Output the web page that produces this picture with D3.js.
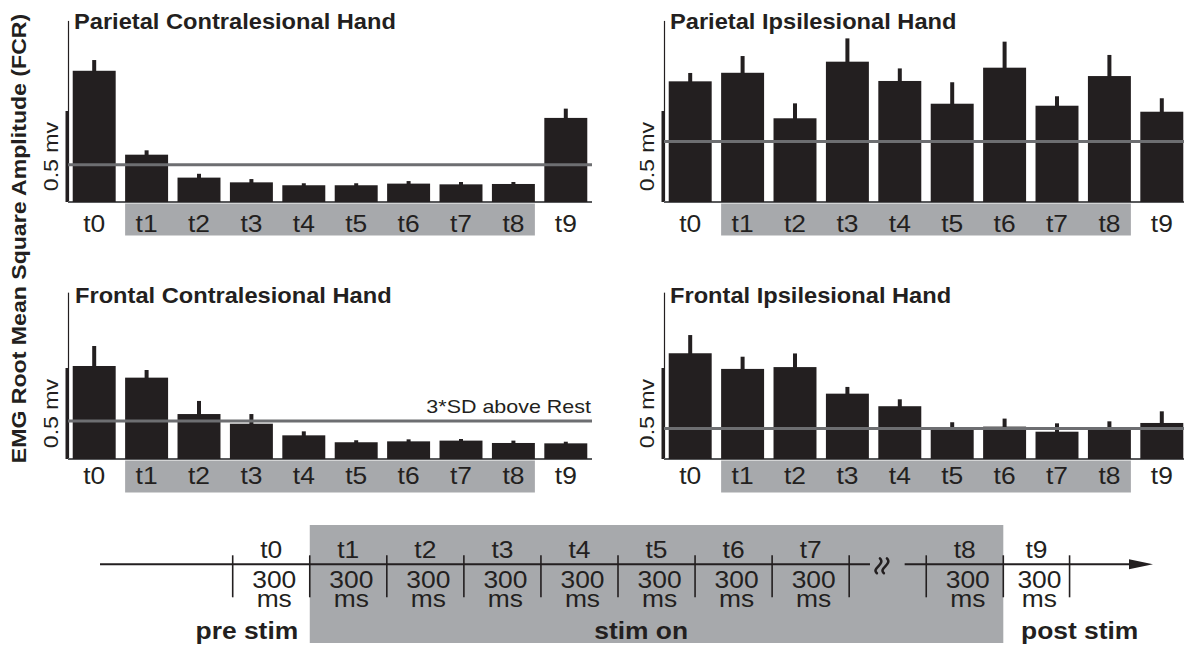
<!DOCTYPE html>
<html><head><meta charset="utf-8">
<script src="https://cdn.jsdelivr.net/npm/d3@7"></script>
<style>
body{margin:0;background:#fff}
svg{display:block}
text{font-family:"Liberation Sans",Arial,Helvetica,sans-serif;fill:#231f20}
</style>
</head><body>
<svg id="chart" width="1184" height="648"></svg>
<script>
// ---------- DATA ----------
const categories = ["t0","t1","t2","t3","t4","t5","t6","t7","t8","t9"];
const stimCategories = ["t1","t2","t3","t4","t5","t6","t7","t8"];

const parietalContraMean = [0.721,0.260,0.134,0.108,0.092,0.092,0.101,0.097,0.099,0.462];
const parietalContraErr  = [0.059,0.024,0.021,0.018,0.011,0.011,0.014,0.013,0.011,0.051];
const parietalIpsiMean   = [0.663,0.710,0.460,0.771,0.665,0.540,0.738,0.529,0.692,0.496];
const parietalIpsiErr    = [0.046,0.092,0.082,0.128,0.069,0.118,0.143,0.052,0.116,0.074];
const frontalContraMean  = [0.511,0.447,0.247,0.194,0.130,0.092,0.097,0.101,0.088,0.086];
const frontalContraErr   = [0.110,0.042,0.072,0.053,0.022,0.011,0.011,0.009,0.013,0.009];
const frontalIpsiMean    = [0.581,0.495,0.505,0.359,0.290,0.163,0.178,0.150,0.163,0.198];
const frontalIpsiErr     = [0.100,0.067,0.075,0.037,0.038,0.039,0.044,0.046,0.044,0.064];
const thresholds = [0.205,0.333,0.209,0.167]; // 3*SD above rest (mV)

const panelTitles = ["Parietal Contralesional Hand","Parietal Ipsilesional Hand",
                     "Frontal Contralesional Hand","Frontal Ipsilesional Hand"];
const yAxisLabel = "EMG Root Mean Square Amplitude (FCR)";
const scaleBarValue = 0.5;
const scaleBarLabel = "0.5 mv";
const thresholdLabel = "3*SD above Rest";

// timeline schematic
const timelineLabels = categories;
const timelineSegStart = [0,1,2,3,4,5,6,7,9,10];      // slot units
const timelineSegEnd   = [1,2,3,4,5,6,7,8,10,10.86];
const durationLabel = ["300","ms"];
const phaseLabels = ["pre stim","stim on","post stim"];

// ---------- LAYOUT ----------
const svg = d3.select("#chart");
const INK = "#231f20", BAND = "#a7a9ac", LINE = "#6d6e71";
const K = 1.1; // horizontal glyph stretch of the original lettering

function txt(g, s, x, y, size, opts = {}) {
  return g.append("text")
    .attr("transform", `translate(${x},${y})` + (opts.rotate ? ` rotate(${opts.rotate})` : "") + ` scale(${opts.k || K},1)`)
    .attr("font-size", size)
    .attr("text-anchor", opts.anchor || "middle")
    .attr("font-weight", opts.bold ? "bold" : "normal")
    .text(s);
}

const panels = [
  {title: panelTitles[0], mean: parietalContraMean, err: parietalContraErr, thr: thresholds[0],
   x0: 68, base: 202, axisMax: 0.995, titleX: 74, titleY: 28.5, labelDy: 29.7, thrLabel: false},
  {title: panelTitles[1], mean: parietalIpsiMean, err: parietalIpsiErr, thr: thresholds[1],
   x0: 664, base: 202, axisMax: 0.995, titleX: 670, titleY: 28.5, labelDy: 29.7, thrLabel: false},
  {title: panelTitles[2], mean: frontalContraMean, err: frontalContraErr, thr: thresholds[2],
   x0: 68, base: 459, axisMax: 0.914, titleX: 75, titleY: 302.5, labelDy: 25, thrLabel: true},
  {title: panelTitles[3], mean: frontalIpsiMean, err: frontalIpsiErr, thr: thresholds[3],
   x0: 664, base: 459, axisMax: 0.914, titleX: 670, titleY: 303, labelDy: 25, thrLabel: false}
];

panels.forEach(p => {
  const g = svg.append("g");
  const x = d3.scaleBand().domain(categories).range([p.x0, p.x0 + 524])
              .paddingInner(0.18).paddingOuter(0.09);
  const y = d3.scaleLinear().domain([0, 1]).range([p.base, p.base - 182]);
  const bw = x.bandwidth();

  // gray band behind stimulation-period labels
  const bx0 = x(stimCategories[0]), bx1 = x(stimCategories[stimCategories.length - 1]) + bw;
  g.append("rect").attr("x", bx0).attr("y", p.base + 1.5).attr("width", bx1 - bx0).attr("height", 32).attr("fill", BAND);

  // thin y axis line
  g.append("line").attr("x1", p.x0 + 0.5).attr("x2", p.x0 + 0.5)
    .attr("y1", y(p.axisMax)).attr("y2", y(0)).attr("stroke", INK).attr("stroke-width", 1.2);
  // scale bar
  g.append("line").attr("x1", p.x0 - 1).attr("x2", p.x0 - 1)
    .attr("y1", y(scaleBarValue)).attr("y2", y(0)).attr("stroke", INK).attr("stroke-width", 3);
  txt(g, scaleBarLabel, p.x0 - 10, y(scaleBarValue / 2), 21, {rotate: -90});

  // baseline
  g.append("line").attr("x1", p.x0).attr("x2", Math.min(p.x0 + 524, 1184))
    .attr("y1", p.base).attr("y2", p.base).attr("stroke", "#58595b").attr("stroke-width", 2);

  // bars
  g.selectAll("rect.bar").data(categories).join("rect").attr("class", "bar")
    .attr("x", d => x(d)).attr("width", bw)
    .attr("y", (d, i) => y(p.mean[i])).attr("height", (d, i) => y(0) - y(p.mean[i]))
    .attr("fill", INK);
  // error bars (upper only)
  g.selectAll("line.err").data(categories).join("line").attr("class", "err")
    .attr("x1", d => x(d) + bw / 2).attr("x2", d => x(d) + bw / 2)
    .attr("y1", (d, i) => y(p.mean[i]) + 1).attr("y2", (d, i) => y(p.mean[i] + p.err[i]))
    .attr("stroke", INK).attr("stroke-width", 4);

  // threshold line
  g.append("line").attr("x1", p.x0).attr("x2", Math.min(p.x0 + 524, 1184))
    .attr("y1", y(p.thr)).attr("y2", y(p.thr)).attr("stroke", LINE).attr("stroke-width", 3);
  if (p.thrLabel) txt(g, thresholdLabel, p.x0 + 523, y(p.thr) - 8, 19, {anchor: "end", k: 1.13});

  // category labels via axis
  const ax = g.append("g").attr("transform", `translate(0,${p.base})`)
    .call(d3.axisBottom(x).tickSize(0).tickSizeOuter(0));
  ax.select(".domain").remove();
  ax.selectAll("text").attr("y", p.labelDy).attr("dy", 0)
    .attr("font-size", 24).attr("fill", INK)
    .attr("font-family", '"Liberation Sans",Arial,sans-serif')
    .attr("transform", `scale(${K},1)`);

  // title
  txt(g, p.title, p.titleX, p.titleY, 21.5, {anchor: "start", bold: true});
});

// y-axis title
txt(svg, yAxisLabel, 26, 238.5, 21, {rotate: -90, bold: true});

// ---------- TIMELINE ----------
const tg = svg.append("g");
const tx = d3.scaleLinear().domain([0, 10]).range([232.7, 1003.3]);
const ty = 564.3;
tg.append("rect").attr("x", tx(1)).attr("y", 525).attr("width", tx(10) - tx(1)).attr("height", 118).attr("fill", BAND);
// main line with a break
tg.append("line").attr("x1", 100).attr("x2", tx(8.27)).attr("y1", ty).attr("y2", ty).attr("stroke", INK).attr("stroke-width", 2);
tg.append("line").attr("x1", tx(8.72)).attr("x2", 1132).attr("y1", ty).attr("y2", ty).attr("stroke", INK).attr("stroke-width", 2);
tg.append("path").attr("d", `M1129,${ty - 5} L1153,${ty} L1129,${ty + 5} Z`).attr("fill", INK);
// break symbol
[0, 7].forEach(dx => {
  const bx = tx(8.36) + dx;
  tg.append("path").attr("d", `M${bx},${ty + 9} C${bx - 6},${ty + 4} ${bx + 9},${ty} ${bx + 3},${ty - 6}`)
    .attr("fill", "none").attr("stroke", INK).attr("stroke-width", 2.5).attr("stroke-linecap", "round");
});
// ticks
const tickSlots = Array.from(new Set(timelineSegStart.concat(timelineSegEnd)));
tg.selectAll("line.tick").data(tickSlots).join("line").attr("class", "tick")
  .attr("x1", d => tx(d)).attr("x2", d => tx(d)).attr("y1", ty - 9).attr("y2", ty + 33)
  .attr("stroke", INK).attr("stroke-width", 1.6);
// labels
timelineLabels.forEach((l, i) => {
  const cx = tx((timelineSegStart[i] + timelineSegEnd[i]) / 2);
  txt(tg, l, cx, 558, 24);
  const d = txt(tg, null, cx + 3, 588.3, 24);
  d.append("tspan").attr("x", 0).attr("y", 0).text(durationLabel[0]);
  d.append("tspan").attr("x", 0).attr("y", 18.4).text(durationLabel[1]);
});
txt(tg, phaseLabels[0], tx(0.85), 639, 24, {anchor: "end", bold: true});
txt(tg, phaseLabels[1], tx(5.3), 639, 24, {bold: true});
txt(tg, phaseLabels[2], tx(10.23), 639, 24, {anchor: "start", bold: true});
</script>
</body></html>
